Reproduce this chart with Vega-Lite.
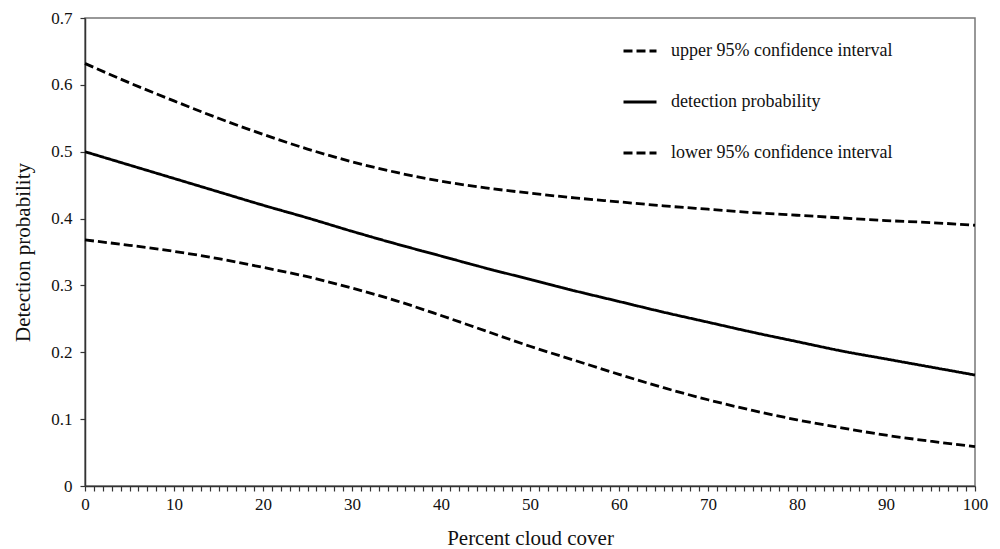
{
  "$schema": "https://vega.github.io/schema/vega-lite/v6.json",
  "width": 890,
  "height": 468,
  "autosize": {"type": "none"},
  "padding": {"left": 85, "top": 18, "right": 25, "bottom": 63},
  "background": "white",
  "config": {
    "font": "Liberation Serif",
    "view": {"stroke": "#777", "strokeWidth": 1.5},
    "axis": {
      "domainColor": "#333",
      "domainWidth": 1.5,
      "tickColor": "#333",
      "tickWidth": 1.2,
      "tickSize": 5,
      "labelFont": "Liberation Serif",
      "labelFontSize": 17,
      "labelColor": "#111",
      "titleFont": "Liberation Serif",
      "titleFontSize": 21,
      "titleFontWeight": "normal",
      "titleColor": "#111",
      "grid": false
    },
    "legend": {
      "labelFont": "Liberation Serif",
      "labelFontSize": 18,
      "labelColor": "#111",
      "labelLimit": 400
    }
  },
  "data": {
    "values": [
      {"cloud": 0, "series": "upper 95% confidence interval", "p": 0.632},
      {"cloud": 5, "series": "upper 95% confidence interval", "p": 0.603},
      {"cloud": 10, "series": "upper 95% confidence interval", "p": 0.576},
      {"cloud": 15, "series": "upper 95% confidence interval", "p": 0.550},
      {"cloud": 20, "series": "upper 95% confidence interval", "p": 0.526},
      {"cloud": 25, "series": "upper 95% confidence interval", "p": 0.504},
      {"cloud": 30, "series": "upper 95% confidence interval", "p": 0.485},
      {"cloud": 35, "series": "upper 95% confidence interval", "p": 0.469},
      {"cloud": 40, "series": "upper 95% confidence interval", "p": 0.456},
      {"cloud": 45, "series": "upper 95% confidence interval", "p": 0.446},
      {"cloud": 50, "series": "upper 95% confidence interval", "p": 0.438},
      {"cloud": 55, "series": "upper 95% confidence interval", "p": 0.431},
      {"cloud": 60, "series": "upper 95% confidence interval", "p": 0.425},
      {"cloud": 65, "series": "upper 95% confidence interval", "p": 0.419},
      {"cloud": 70, "series": "upper 95% confidence interval", "p": 0.414},
      {"cloud": 75, "series": "upper 95% confidence interval", "p": 0.409},
      {"cloud": 80, "series": "upper 95% confidence interval", "p": 0.405},
      {"cloud": 85, "series": "upper 95% confidence interval", "p": 0.401},
      {"cloud": 90, "series": "upper 95% confidence interval", "p": 0.397},
      {"cloud": 95, "series": "upper 95% confidence interval", "p": 0.394},
      {"cloud": 100, "series": "upper 95% confidence interval", "p": 0.390},
      {"cloud": 0, "series": "detection probability", "p": 0.500},
      {"cloud": 5, "series": "detection probability", "p": 0.480},
      {"cloud": 10, "series": "detection probability", "p": 0.460},
      {"cloud": 15, "series": "detection probability", "p": 0.440},
      {"cloud": 20, "series": "detection probability", "p": 0.420},
      {"cloud": 25, "series": "detection probability", "p": 0.401},
      {"cloud": 30, "series": "detection probability", "p": 0.381},
      {"cloud": 35, "series": "detection probability", "p": 0.362},
      {"cloud": 40, "series": "detection probability", "p": 0.344},
      {"cloud": 45, "series": "detection probability", "p": 0.326},
      {"cloud": 50, "series": "detection probability", "p": 0.309},
      {"cloud": 55, "series": "detection probability", "p": 0.292},
      {"cloud": 60, "series": "detection probability", "p": 0.276},
      {"cloud": 65, "series": "detection probability", "p": 0.260},
      {"cloud": 70, "series": "detection probability", "p": 0.245},
      {"cloud": 75, "series": "detection probability", "p": 0.230},
      {"cloud": 80, "series": "detection probability", "p": 0.216},
      {"cloud": 85, "series": "detection probability", "p": 0.202},
      {"cloud": 90, "series": "detection probability", "p": 0.190},
      {"cloud": 95, "series": "detection probability", "p": 0.178},
      {"cloud": 100, "series": "detection probability", "p": 0.166},
      {"cloud": 0, "series": "lower 95% confidence interval", "p": 0.368},
      {"cloud": 5, "series": "lower 95% confidence interval", "p": 0.360},
      {"cloud": 10, "series": "lower 95% confidence interval", "p": 0.351},
      {"cloud": 15, "series": "lower 95% confidence interval", "p": 0.340},
      {"cloud": 20, "series": "lower 95% confidence interval", "p": 0.327},
      {"cloud": 25, "series": "lower 95% confidence interval", "p": 0.313},
      {"cloud": 30, "series": "lower 95% confidence interval", "p": 0.296},
      {"cloud": 35, "series": "lower 95% confidence interval", "p": 0.277},
      {"cloud": 40, "series": "lower 95% confidence interval", "p": 0.255},
      {"cloud": 45, "series": "lower 95% confidence interval", "p": 0.232},
      {"cloud": 50, "series": "lower 95% confidence interval", "p": 0.209},
      {"cloud": 55, "series": "lower 95% confidence interval", "p": 0.188},
      {"cloud": 60, "series": "lower 95% confidence interval", "p": 0.167},
      {"cloud": 65, "series": "lower 95% confidence interval", "p": 0.147},
      {"cloud": 70, "series": "lower 95% confidence interval", "p": 0.129},
      {"cloud": 75, "series": "lower 95% confidence interval", "p": 0.113},
      {"cloud": 80, "series": "lower 95% confidence interval", "p": 0.099},
      {"cloud": 85, "series": "lower 95% confidence interval", "p": 0.087},
      {"cloud": 90, "series": "lower 95% confidence interval", "p": 0.076},
      {"cloud": 95, "series": "lower 95% confidence interval", "p": 0.067},
      {"cloud": 100, "series": "lower 95% confidence interval", "p": 0.059}
    ]
  },
  "mark": {"type": "line", "color": "black", "strokeWidth": 2.8, "interpolate": "monotone"},
  "encoding": {
    "x": {
      "field": "cloud",
      "type": "quantitative",
      "title": "Percent cloud cover",
      "scale": {"domain": [0, 100], "nice": false, "zero": false},
      "axis": {
        "values": [0,1,2,3,4,5,6,7,8,9,10,11,12,13,14,15,16,17,18,19,20,21,22,23,24,25,26,27,28,29,30,31,32,33,34,35,36,37,38,39,40,41,42,43,44,45,46,47,48,49,50,51,52,53,54,55,56,57,58,59,60,61,62,63,64,65,66,67,68,69,70,71,72,73,74,75,76,77,78,79,80,81,82,83,84,85,86,87,88,89,90,91,92,93,94,95,96,97,98,99,100],
        "labelExpr": "datum.value % 10 === 0 ? datum.label : ''",
        "labelOverlap": false,
        "labelFlush": false,
        "labelPadding": 5,
        "titlePadding": 15
      }
    },
    "y": {
      "field": "p",
      "type": "quantitative",
      "title": "Detection probability",
      "scale": {"domain": [0, 0.7], "nice": false},
      "axis": {
        "values": [0, 0.1, 0.2, 0.3, 0.4, 0.5, 0.6, 0.7],
        "format": "~g",
        "labelPadding": 8,
        "titlePadding": 17
      }
    },
    "strokeDash": {
      "field": "series",
      "type": "nominal",
      "scale": {
        "domain": ["upper 95% confidence interval", "detection probability", "lower 95% confidence interval"],
        "range": [[9, 4], [1, 0], [9, 4]]
      },
      "legend": {
        "title": null,
        "orient": "none",
        "legendX": 537,
        "legendY": 15,
        "symbolType": "stroke",
        "symbolSize": 1089,
        "symbolStrokeWidth": 2.8,
        "symbolStrokeColor": "black",
        "labelOffset": 13,
        "rowPadding": 24
      }
    }
  }
}
